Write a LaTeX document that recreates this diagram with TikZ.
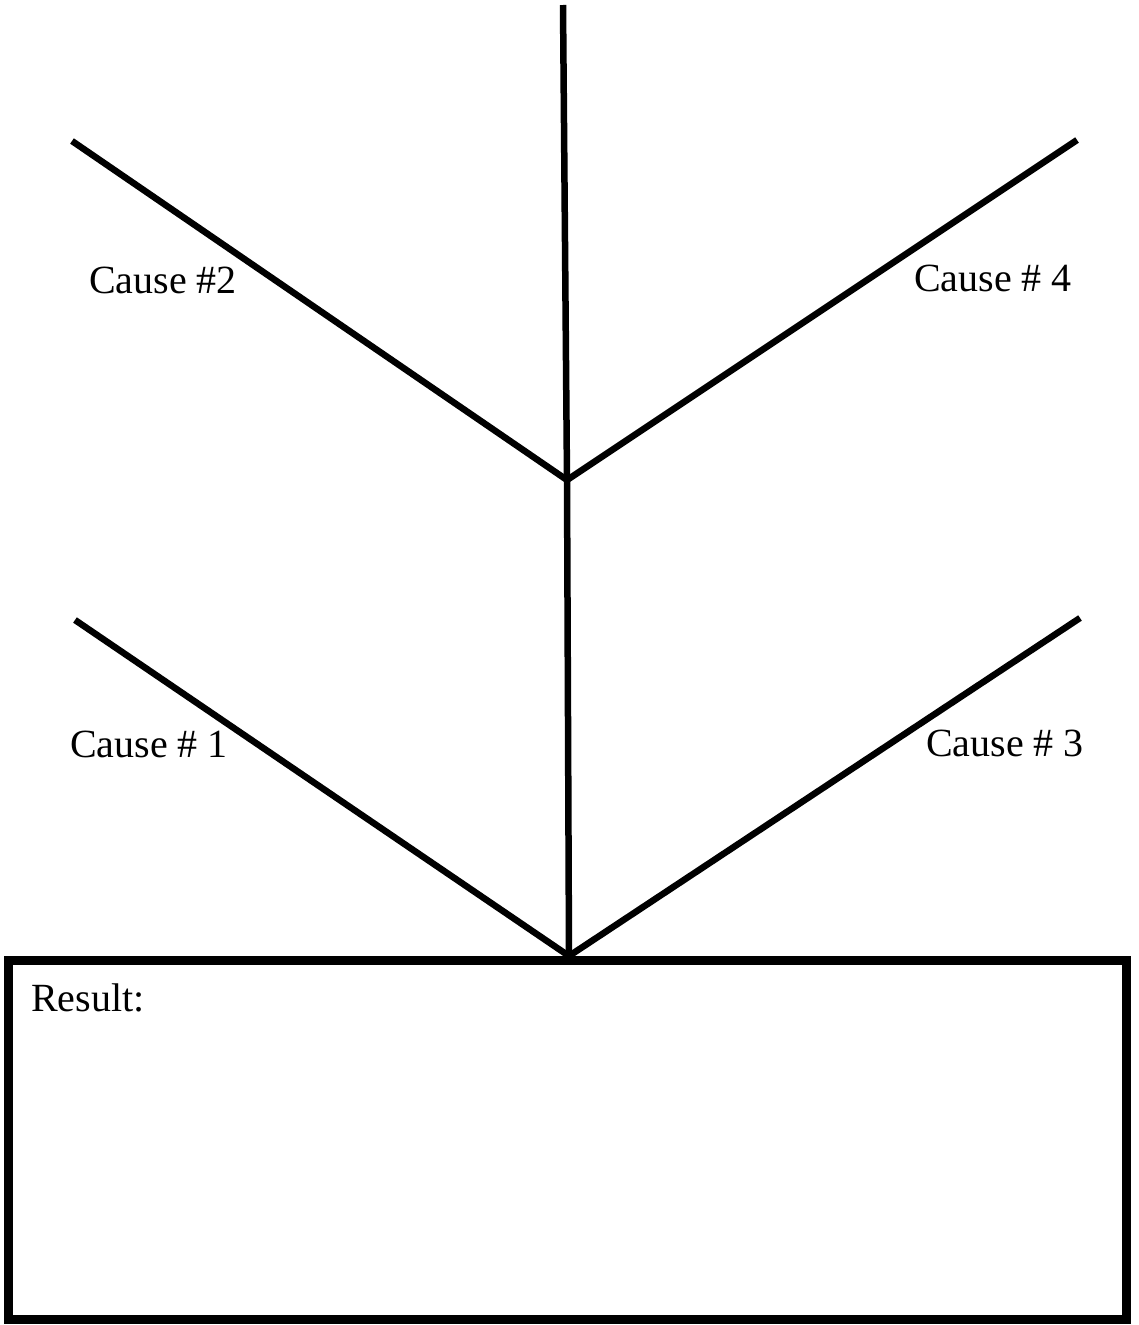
\documentclass[tikz,border=0pt]{standalone}
\usepackage{fontspec}
\setmainfont{Liberation Serif}
\begin{document}
\begin{tikzpicture}[x=1pt,y=-1pt,
  branch/.style={line width=6.5pt,line cap=butt},
  lbl/.style={font=\fontsize{40}{44}\selectfont,inner sep=0pt,anchor=west}]
\useasboundingbox (0,0) rectangle (1139,1325);
\node[draw,line width=9pt,minimum width=1118pt,minimum height=359pt,inner sep=0pt,outer sep=0pt,anchor=north west] (box) at (8,960) {};
\coordinate (top) at (563,5);
\coordinate (j1) at (567,480);
\coordinate (j2) at (569,956);
\coordinate (e2) at (72,141);
\coordinate (e4) at (1077,140);
\coordinate (e1) at (75,620);
\coordinate (e3) at (1080,618);
\draw[branch] (top) -- (j1) -- (j2);
\draw[branch] (e2) -- (j1) -- (e4);
\draw[branch] (e1) -- (j2) -- (e3);
\node[lbl] (c2) at (89,280) {Cause \#2};
\node[lbl] (c4) at (914,278) {Cause \# 4};
\node[lbl] (c1) at (70,744) {Cause \# 1};
\node[lbl] (c3) at (926,743) {Cause \# 3};
\node[lbl] (res) at (31,998) {Result:};
\end{tikzpicture}
\end{document}
